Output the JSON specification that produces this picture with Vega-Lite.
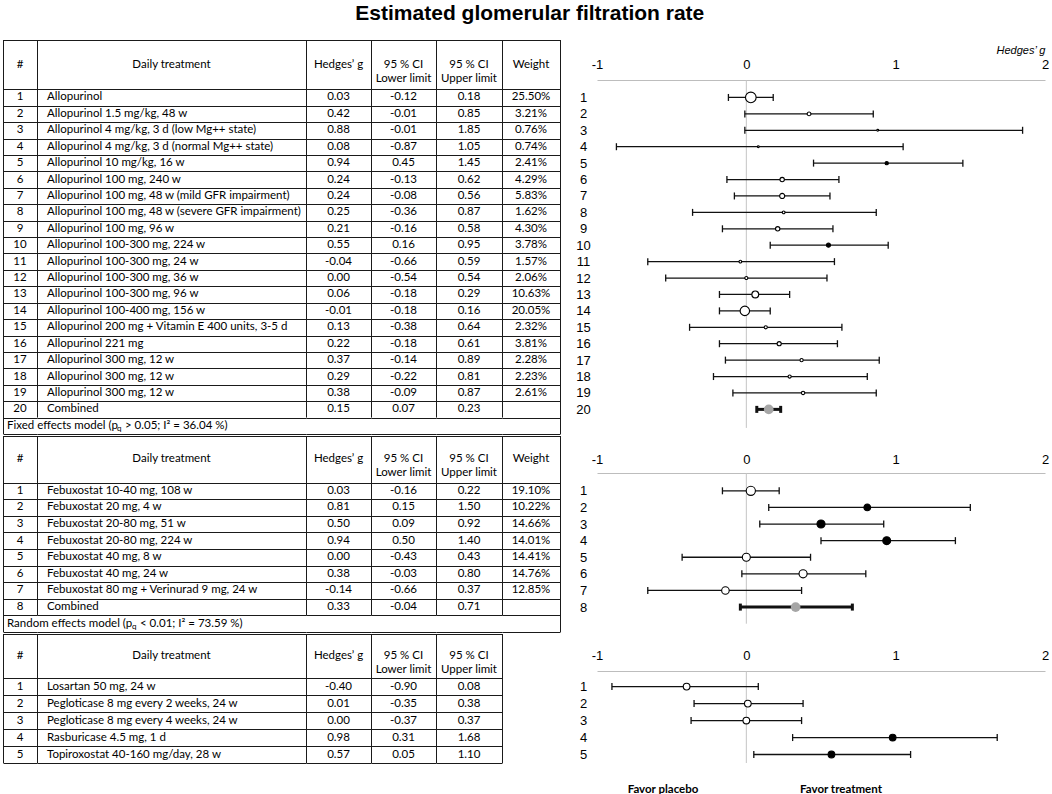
{
  "$schema": "https://vega.github.io/schema/vega-lite/v6.json",
  "padding": {"left": 3, "top": 2, "right": 5, "bottom": 4},
  "title": {"text": "Estimated glomerular filtration rate", "font": "Liberation Sans", "fontSize": 21, "fontWeight": "bold", "color": "#000", "anchor": "middle", "offset": 16, "dx": 4},
  "datasets": {
    "s1": [
      {"n": 1, "t": "Allopurinol", "g": 0.03, "lo": -0.12, "hi": 0.18, "w": 0.255},
      {"n": 2, "t": "Allopurinol 1.5 mg/kg, 48 w", "g": 0.42, "lo": -0.01, "hi": 0.85, "w": 0.0321},
      {"n": 3, "t": "Allopurinol 4 mg/kg, 3 d (low Mg++ state)", "g": 0.88, "lo": -0.01, "hi": 1.85, "w": 0.0076},
      {"n": 4, "t": "Allopurinol 4 mg/kg, 3 d (normal Mg++ state)", "g": 0.08, "lo": -0.87, "hi": 1.05, "w": 0.0074},
      {"n": 5, "t": "Allopurinol 10 mg/kg, 16 w", "g": 0.94, "lo": 0.45, "hi": 1.45, "w": 0.0241},
      {"n": 6, "t": "Allopurinol 100 mg, 240 w", "g": 0.24, "lo": -0.13, "hi": 0.62, "w": 0.0429},
      {"n": 7, "t": "Allopurinol 100 mg, 48 w (mild GFR impairment)", "g": 0.24, "lo": -0.08, "hi": 0.56, "w": 0.0583},
      {"n": 8, "t": "Allopurinol 100 mg, 48 w (severe GFR impairment)", "g": 0.25, "lo": -0.36, "hi": 0.87, "w": 0.0162},
      {"n": 9, "t": "Allopurinol 100 mg, 96 w", "g": 0.21, "lo": -0.16, "hi": 0.58, "w": 0.043},
      {"n": 10, "t": "Allopurinol 100-300 mg, 224 w", "g": 0.55, "lo": 0.16, "hi": 0.95, "w": 0.0378},
      {"n": 11, "t": "Allopurinol 100-300 mg, 24 w", "g": -0.04, "lo": -0.66, "hi": 0.59, "w": 0.0157},
      {"n": 12, "t": "Allopurinol 100-300 mg, 36 w", "g": 0.0, "lo": -0.54, "hi": 0.54, "w": 0.0206},
      {"n": 13, "t": "Allopurinol 100-300 mg, 96 w", "g": 0.06, "lo": -0.18, "hi": 0.29, "w": 0.1063},
      {"n": 14, "t": "Allopurinol 100-400 mg, 156 w", "g": -0.01, "lo": -0.18, "hi": 0.16, "w": 0.2005},
      {"n": 15, "t": "Allopurinol 200 mg + Vitamin E 400 units, 3-5 d", "g": 0.13, "lo": -0.38, "hi": 0.64, "w": 0.0232},
      {"n": 16, "t": "Allopurinol 221 mg", "g": 0.22, "lo": -0.18, "hi": 0.61, "w": 0.0381},
      {"n": 17, "t": "Allopurinol 300 mg, 12 w", "g": 0.37, "lo": -0.14, "hi": 0.89, "w": 0.0228},
      {"n": 18, "t": "Allopurinol 300 mg, 12 w", "g": 0.29, "lo": -0.22, "hi": 0.81, "w": 0.0223},
      {"n": 19, "t": "Allopurinol 300 mg, 12 w", "g": 0.38, "lo": -0.09, "hi": 0.87, "w": 0.0261},
      {"n": 20, "t": "Combined", "g": 0.15, "lo": 0.07, "hi": 0.23}
    ],
    "s2": [
      {"n": 1, "t": "Febuxostat 10-40 mg, 108 w", "g": 0.03, "lo": -0.16, "hi": 0.22, "w": 0.191},
      {"n": 2, "t": "Febuxostat 20 mg, 4 w", "g": 0.81, "lo": 0.15, "hi": 1.5, "w": 0.1022},
      {"n": 3, "t": "Febuxostat 20-80 mg, 51 w", "g": 0.5, "lo": 0.09, "hi": 0.92, "w": 0.1466},
      {"n": 4, "t": "Febuxostat 20-80 mg, 224 w", "g": 0.94, "lo": 0.5, "hi": 1.4, "w": 0.1401},
      {"n": 5, "t": "Febuxostat 40 mg, 8 w", "g": 0.0, "lo": -0.43, "hi": 0.43, "w": 0.1441},
      {"n": 6, "t": "Febuxostat 40 mg, 24 w", "g": 0.38, "lo": -0.03, "hi": 0.8, "w": 0.1476},
      {"n": 7, "t": "Febuxostat 80 mg + Verinurad 9 mg, 24 w", "g": -0.14, "lo": -0.66, "hi": 0.37, "w": 0.1285},
      {"n": 8, "t": "Combined", "g": 0.33, "lo": -0.04, "hi": 0.71}
    ],
    "s3": [
      {"n": 1, "t": "Losartan 50 mg, 24 w", "g": -0.4, "lo": -0.9, "hi": 0.08},
      {"n": 2, "t": "Pegloticase 8 mg every 2 weeks, 24 w", "g": 0.01, "lo": -0.35, "hi": 0.38},
      {"n": 3, "t": "Pegloticase 8 mg every 4 weeks, 24 w", "g": 0.0, "lo": -0.37, "hi": 0.37},
      {"n": 4, "t": "Rasburicase 4.5 mg, 1 d", "g": 0.98, "lo": 0.31, "hi": 1.68},
      {"n": 5, "t": "Topiroxostat 40-160 mg/day, 28 w", "g": 0.57, "lo": 0.05, "hi": 1.1}
    ]
  },
  "spacing": 0,
  "vconcat": [
    {
      "hconcat": [
        {"width": 34, "height": 394, "layer": [
          {"data": {"values": [{}]}, "mark": {"type": "text", "font": "Lato", "fontSize": 11.5, "color": "#000"},
           "encoding": {"x": {"datum": 0.5, "type": "quantitative", "scale": {"domain": [0, 1]}, "axis": null},
                        "y": {"datum": -1, "type": "quantitative", "scale": {"domain": [-2.5, 21.5], "reverse": true, "nice": false, "zero": false}, "axis": {"values": [-2.5, 0.5, 1.5, 2.5, 3.5, 4.5, 5.5, 6.5, 7.5, 8.5, 9.5, 10.5, 11.5, 12.5, 13.5, 14.5, 15.5, 16.5, 17.5, 18.5, 19.5, 20.5, 21.5], "tickCount": 100, "grid": true, "gridColor": "#1a1a1a", "labels": false, "ticks": false, "domain": false, "title": null}},
                        "text": {"value": "#"}}},
          {"data": {"name": "s1"}, "mark": {"type": "text", "font": "Lato", "fontSize": 11.5, "color": "#000"},
           "encoding": {"x": {"datum": 0.5, "type": "quantitative", "scale": {"domain": [0, 1]}, "axis": null},
                        "y": {"field": "n", "type": "quantitative", "scale": {"domain": [-2.5, 21.5], "reverse": true, "nice": false, "zero": false}},
                        "text": {"field": "n", "type": "quantitative", "format": "d"}}},
          {"data": {"values": [{}]}, "mark": {"type": "rule", "color": "#1a1a1a", "xOffset": 0.5},
           "encoding": {"x": {"datum": 0, "type": "quantitative", "scale": {"domain": [0, 1]}, "axis": null},
                        "y": {"datum": -2.5, "type": "quantitative", "scale": {"domain": [-2.5, 21.5], "reverse": true, "nice": false, "zero": false}},
                        "y2": {"datum": 21.5}}},
          {"data": {"values": [{}]}, "mark": {"type": "text", "font": "Lato", "fontSize": 11.5, "color": "#000", "align": "left", "dx": 4},
           "encoding": {"x": {"datum": 0, "type": "quantitative", "scale": {"domain": [0, 1]}, "axis": null},
                        "y": {"datum": 21, "type": "quantitative", "scale": {"domain": [-2.5, 21.5], "reverse": true, "nice": false, "zero": false}},
                        "text": {"value": "Fixed effects model (p"}}},
          {"data": {"values": [{}]}, "mark": {"type": "text", "font": "Lato", "fontSize": 8, "color": "#000", "align": "left", "dx": 114, "dy": 3},
           "encoding": {"x": {"datum": 0, "type": "quantitative", "scale": {"domain": [0, 1]}, "axis": null},
                        "y": {"datum": 21, "type": "quantitative", "scale": {"domain": [-2.5, 21.5], "reverse": true, "nice": false, "zero": false}},
                        "text": {"value": "q"}}},
          {"data": {"values": [{}]}, "mark": {"type": "text", "font": "Lato", "fontSize": 11.5, "color": "#000", "align": "left", "dx": 122},
           "encoding": {"x": {"datum": 0, "type": "quantitative", "scale": {"domain": [0, 1]}, "axis": null},
                        "y": {"datum": 21, "type": "quantitative", "scale": {"domain": [-2.5, 21.5], "reverse": true, "nice": false, "zero": false}},
                        "text": {"value": "> 0.05; I² = 36.04 %)"}}}
        ]},
        {"width": 269, "height": 394, "layer": [
          {"data": {"values": [{}]}, "mark": {"type": "text", "font": "Lato", "fontSize": 11.5, "color": "#000"},
           "encoding": {"x": {"datum": 0.5, "type": "quantitative", "scale": {"domain": [0, 1]}, "axis": null},
                        "y": {"datum": -1, "type": "quantitative", "scale": {"domain": [-2.5, 21.5], "reverse": true, "nice": false, "zero": false}, "axis": {"values": [-2.5, 0.5, 1.5, 2.5, 3.5, 4.5, 5.5, 6.5, 7.5, 8.5, 9.5, 10.5, 11.5, 12.5, 13.5, 14.5, 15.5, 16.5, 17.5, 18.5, 19.5, 20.5, 21.5], "tickCount": 100, "grid": true, "gridColor": "#1a1a1a", "labels": false, "ticks": false, "domain": false, "title": null}},
                        "text": {"value": "Daily treatment"}}},
          {"data": {"name": "s1"}, "mark": {"type": "text", "font": "Lato", "fontSize": 11.5, "color": "#000", "align": "left", "dx": 10},
           "encoding": {"x": {"datum": 0, "type": "quantitative", "scale": {"domain": [0, 1]}, "axis": null},
                        "y": {"field": "n", "type": "quantitative", "scale": {"domain": [-2.5, 21.5], "reverse": true, "nice": false, "zero": false}},
                        "text": {"field": "t"},
                        "fontWeight": {"condition": {"test": "datum.t === 'Combined'", "value": "bold"}, "value": "normal"}}},
          {"data": {"values": [{}]}, "mark": {"type": "rule", "color": "#1a1a1a", "xOffset": 0.5},
           "encoding": {"x": {"datum": 0, "type": "quantitative", "scale": {"domain": [0, 1]}, "axis": null},
                        "y": {"datum": -2.5, "type": "quantitative", "scale": {"domain": [-2.5, 21.5], "reverse": true, "nice": false, "zero": false}},
                        "y2": {"datum": 20.5}}}
        ]},
        {"width": 65, "height": 394, "layer": [
          {"data": {"values": [{}]}, "mark": {"type": "text", "font": "Lato", "fontSize": 11.5, "color": "#000"},
           "encoding": {"x": {"datum": 0.5, "type": "quantitative", "scale": {"domain": [0, 1]}, "axis": null},
                        "y": {"datum": -1, "type": "quantitative", "scale": {"domain": [-2.5, 21.5], "reverse": true, "nice": false, "zero": false}, "axis": {"values": [-2.5, 0.5, 1.5, 2.5, 3.5, 4.5, 5.5, 6.5, 7.5, 8.5, 9.5, 10.5, 11.5, 12.5, 13.5, 14.5, 15.5, 16.5, 17.5, 18.5, 19.5, 20.5, 21.5], "tickCount": 100, "grid": true, "gridColor": "#1a1a1a", "labels": false, "ticks": false, "domain": false, "title": null}},
                        "text": {"value": "Hedges’ g"}}},
          {"data": {"name": "s1"}, "mark": {"type": "text", "font": "Lato", "fontSize": 11.5, "color": "#000"},
           "encoding": {"x": {"datum": 0.5, "type": "quantitative", "scale": {"domain": [0, 1]}, "axis": null},
                        "y": {"field": "n", "type": "quantitative", "scale": {"domain": [-2.5, 21.5], "reverse": true, "nice": false, "zero": false}},
                        "text": {"field": "g", "type": "quantitative", "format": ".2f"},
                        "fontWeight": {"condition": {"test": "datum.t === 'Combined'", "value": "bold"}, "value": "normal"}}},
          {"data": {"values": [{}]}, "mark": {"type": "rule", "color": "#1a1a1a", "xOffset": 0.5},
           "encoding": {"x": {"datum": 0, "type": "quantitative", "scale": {"domain": [0, 1]}, "axis": null},
                        "y": {"datum": -2.5, "type": "quantitative", "scale": {"domain": [-2.5, 21.5], "reverse": true, "nice": false, "zero": false}},
                        "y2": {"datum": 20.5}}}
        ]},
        {"width": 65, "height": 394, "layer": [
          {"data": {"values": [{}]}, "mark": {"type": "text", "font": "Lato", "fontSize": 11.5, "color": "#000", "lineHeight": 14},
           "encoding": {"x": {"datum": 0.5, "type": "quantitative", "scale": {"domain": [0, 1]}, "axis": null},
                        "y": {"datum": -1, "type": "quantitative", "scale": {"domain": [-2.5, 21.5], "reverse": true, "nice": false, "zero": false}, "axis": {"values": [-2.5, 0.5, 1.5, 2.5, 3.5, 4.5, 5.5, 6.5, 7.5, 8.5, 9.5, 10.5, 11.5, 12.5, 13.5, 14.5, 15.5, 16.5, 17.5, 18.5, 19.5, 20.5, 21.5], "tickCount": 100, "grid": true, "gridColor": "#1a1a1a", "labels": false, "ticks": false, "domain": false, "title": null}},
                        "text": {"value": ["95 % CI", "Lower limit"]}}},
          {"data": {"name": "s1"}, "mark": {"type": "text", "font": "Lato", "fontSize": 11.5, "color": "#000"},
           "encoding": {"x": {"datum": 0.5, "type": "quantitative", "scale": {"domain": [0, 1]}, "axis": null},
                        "y": {"field": "n", "type": "quantitative", "scale": {"domain": [-2.5, 21.5], "reverse": true, "nice": false, "zero": false}},
                        "text": {"field": "lo", "type": "quantitative", "format": ".2f"},
                        "fontWeight": {"condition": {"test": "datum.t === 'Combined'", "value": "bold"}, "value": "normal"}}},
          {"data": {"values": [{}]}, "mark": {"type": "rule", "color": "#1a1a1a", "xOffset": 0.5},
           "encoding": {"x": {"datum": 0, "type": "quantitative", "scale": {"domain": [0, 1]}, "axis": null},
                        "y": {"datum": -2.5, "type": "quantitative", "scale": {"domain": [-2.5, 21.5], "reverse": true, "nice": false, "zero": false}},
                        "y2": {"datum": 20.5}}}
        ]},
        {"width": 66, "height": 394, "layer": [
          {"data": {"values": [{}]}, "mark": {"type": "text", "font": "Lato", "fontSize": 11.5, "color": "#000", "lineHeight": 14},
           "encoding": {"x": {"datum": 0.5, "type": "quantitative", "scale": {"domain": [0, 1]}, "axis": null},
                        "y": {"datum": -1, "type": "quantitative", "scale": {"domain": [-2.5, 21.5], "reverse": true, "nice": false, "zero": false}, "axis": {"values": [-2.5, 0.5, 1.5, 2.5, 3.5, 4.5, 5.5, 6.5, 7.5, 8.5, 9.5, 10.5, 11.5, 12.5, 13.5, 14.5, 15.5, 16.5, 17.5, 18.5, 19.5, 20.5, 21.5], "tickCount": 100, "grid": true, "gridColor": "#1a1a1a", "labels": false, "ticks": false, "domain": false, "title": null}},
                        "text": {"value": ["95 % CI", "Upper limit"]}}},
          {"data": {"name": "s1"}, "mark": {"type": "text", "font": "Lato", "fontSize": 11.5, "color": "#000"},
           "encoding": {"x": {"datum": 0.5, "type": "quantitative", "scale": {"domain": [0, 1]}, "axis": null},
                        "y": {"field": "n", "type": "quantitative", "scale": {"domain": [-2.5, 21.5], "reverse": true, "nice": false, "zero": false}},
                        "text": {"field": "hi", "type": "quantitative", "format": ".2f"},
                        "fontWeight": {"condition": {"test": "datum.t === 'Combined'", "value": "bold"}, "value": "normal"}}},
          {"data": {"values": [{}]}, "mark": {"type": "rule", "color": "#1a1a1a", "xOffset": 0.5},
           "encoding": {"x": {"datum": 0, "type": "quantitative", "scale": {"domain": [0, 1]}, "axis": null},
                        "y": {"datum": -2.5, "type": "quantitative", "scale": {"domain": [-2.5, 21.5], "reverse": true, "nice": false, "zero": false}},
                        "y2": {"datum": 20.5}}}
        ]},
        {"width": 58, "height": 394, "layer": [
          {"data": {"values": [{}]}, "mark": {"type": "text", "font": "Lato", "fontSize": 11.5, "color": "#000"},
           "encoding": {"x": {"datum": 0.5, "type": "quantitative", "scale": {"domain": [0, 1]}, "axis": null},
                        "y": {"datum": -1, "type": "quantitative", "scale": {"domain": [-2.5, 21.5], "reverse": true, "nice": false, "zero": false}, "axis": {"values": [-2.5, 0.5, 1.5, 2.5, 3.5, 4.5, 5.5, 6.5, 7.5, 8.5, 9.5, 10.5, 11.5, 12.5, 13.5, 14.5, 15.5, 16.5, 17.5, 18.5, 19.5, 20.5, 21.5], "tickCount": 100, "grid": true, "gridColor": "#1a1a1a", "labels": false, "ticks": false, "domain": false, "title": null}},
                        "text": {"value": "Weight"}}},
          {"data": {"name": "s1"}, "transform": [{"filter": "isValid(datum.w)"}], "mark": {"type": "text", "font": "Lato", "fontSize": 11.5, "color": "#000"},
           "encoding": {"x": {"datum": 0.5, "type": "quantitative", "scale": {"domain": [0, 1]}, "axis": null},
                        "y": {"field": "n", "type": "quantitative", "scale": {"domain": [-2.5, 21.5], "reverse": true, "nice": false, "zero": false}},
                        "text": {"field": "w", "type": "quantitative", "format": ".2%"}}},
          {"data": {"values": [{}]}, "mark": {"type": "rule", "color": "#1a1a1a", "xOffset": 0.5},
           "encoding": {"x": {"datum": 0, "type": "quantitative", "scale": {"domain": [0, 1]}, "axis": null},
                        "y": {"datum": -2.5, "type": "quantitative", "scale": {"domain": [-2.5, 21.5], "reverse": true, "nice": false, "zero": false}},
                        "y2": {"datum": 20.5}}},
          {"data": {"values": [{}]}, "mark": {"type": "rule", "color": "#1a1a1a", "xOffset": 0.5},
           "encoding": {"x": {"datum": 1, "type": "quantitative", "scale": {"domain": [0, 1]}, "axis": null},
                        "y": {"datum": -2.5, "type": "quantitative", "scale": {"domain": [-2.5, 21.5], "reverse": true, "nice": false, "zero": false}},
                        "y2": {"datum": 21.5}}}
        ]},
        {"width": 37, "height": 394, "data": {"values": []}, "mark": "point"},
        {"width": 448, "height": 394, "layer": [
          {"data": {"values": [{}]}, "mark": {"type": "rule", "color": "#c4c4c4", "strokeWidth": 1},
           "encoding": {"x": {"datum": 0, "type": "quantitative", "scale": {"domain": [-1, 2], "nice": false, "zero": false}, "axis": {"orient": "top", "values": [-1, 0, 1, 2], "tickCount": 100, "format": "d", "offset": -40, "domain": true, "domainColor": "#bdbdbd", "ticks": false, "grid": false, "labelFlush": false, "labelOverlap": false, "labelPadding": 9, "labelFont": "Liberation Sans", "labelFontSize": 13, "labelColor": "#000", "title": "Hedges’ g", "titleAnchor": "end", "titleFont": "Liberation Sans", "titleFontSize": 11, "titleFontStyle": "italic", "titleFontWeight": "normal", "titleColor": "#000", "titlePadding": 3}},
                        "y": {"datum": -0.06, "type": "quantitative", "scale": {"domain": [-2.5, 21.5], "reverse": true, "nice": false, "zero": false}, "axis": {"values": [1, 2, 3, 4, 5, 6, 7, 8, 9, 10, 11, 12, 13, 14, 15, 16, 17, 18, 19, 20], "tickCount": 100, "format": "d", "labelOverlap": false, "labelAlign": "center", "labelPadding": 14, "ticks": false, "tickSize": 0, "domain": false, "grid": false, "labelFont": "Liberation Sans", "labelFontSize": 13, "labelColor": "#000", "title": null}},
                        "y2": {"datum": 21.13}}},
          {"data": {"name": "s1"}, "mark": {"type": "rule", "color": "#111"},
           "encoding": {"x": {"field": "lo", "type": "quantitative", "scale": {"domain": [-1, 2], "nice": false, "zero": false}},
                        "x2": {"field": "hi"},
                        "y": {"field": "n", "type": "quantitative", "scale": {"domain": [-2.5, 21.5], "reverse": true, "nice": false, "zero": false}},
                        "strokeWidth": {"condition": {"test": "datum.t === 'Combined'", "value": 3}, "value": 1.3}}},
          {"data": {"name": "s1"}, "mark": {"type": "point", "shape": "M0,-1L0,1", "size": 49, "filled": false, "opacity": 1, "color": "#111"},
           "encoding": {"x": {"field": "lo", "type": "quantitative", "scale": {"domain": [-1, 2], "nice": false, "zero": false}},
                        "y": {"field": "n", "type": "quantitative", "scale": {"domain": [-2.5, 21.5], "reverse": true, "nice": false, "zero": false}},
                        "strokeWidth": {"condition": {"test": "datum.t === 'Combined'", "value": 3}, "value": 1.3}}},
          {"data": {"name": "s1"}, "mark": {"type": "point", "shape": "M0,-1L0,1", "size": 49, "filled": false, "opacity": 1, "color": "#111"},
           "encoding": {"x": {"field": "hi", "type": "quantitative", "scale": {"domain": [-1, 2], "nice": false, "zero": false}},
                        "y": {"field": "n", "type": "quantitative", "scale": {"domain": [-2.5, 21.5], "reverse": true, "nice": false, "zero": false}},
                        "strokeWidth": {"condition": {"test": "datum.t === 'Combined'", "value": 3}, "value": 1.3}}},
          {"data": {"name": "s1"}, "transform": [{"filter": "datum.t !== 'Combined'"}], "mark": {"type": "point", "shape": "circle", "filled": true, "opacity": 1, "stroke": "#000", "strokeWidth": 1.1},
           "encoding": {"x": {"field": "g", "type": "quantitative", "scale": {"domain": [-1, 2], "nice": false, "zero": false}},
                        "y": {"field": "n", "type": "quantitative", "scale": {"domain": [-2.5, 21.5], "reverse": true, "nice": false, "zero": false}},
                        "size": {"field": "w", "type": "quantitative", "scale": {"domain": [0, 0.255], "range": [0, 113]}, "legend": null},
                        "fill": {"condition": {"test": "datum.lo > 0", "value": "#000"}, "value": "#fff"}}},
          {"data": {"name": "s1"}, "transform": [{"filter": "datum.t === 'Combined'"}], "mark": {"type": "point", "shape": "circle", "filled": true, "opacity": 1, "color": "#a6a6a6", "size": 95},
           "encoding": {"x": {"field": "g", "type": "quantitative", "scale": {"domain": [-1, 2], "nice": false, "zero": false}},
                        "y": {"field": "n", "type": "quantitative", "scale": {"domain": [-2.5, 21.5], "reverse": true, "nice": false, "zero": false}}}}
        ]}
      ],
      "spacing": 0,
      "bounds": "flush"
    },
    {
      "hconcat": [
        {"width": 34, "height": 196, "layer": [
          {"data": {"values": [{}]}, "mark": {"type": "text", "font": "Lato", "fontSize": 11.5, "color": "#000"},
           "encoding": {"x": {"datum": 0.5, "type": "quantitative", "scale": {"domain": [0, 1]}, "axis": null},
                        "y": {"datum": -0.9, "type": "quantitative", "scale": {"domain": [-2.3, 9.5], "reverse": true, "nice": false, "zero": false}, "axis": {"values": [-2.3, 0.5, 1.5, 2.5, 3.5, 4.5, 5.5, 6.5, 7.5, 8.5, 9.5], "tickCount": 100, "grid": true, "gridColor": "#1a1a1a", "labels": false, "ticks": false, "domain": false, "title": null}},
                        "text": {"value": "#"}}},
          {"data": {"name": "s2"}, "mark": {"type": "text", "font": "Lato", "fontSize": 11.5, "color": "#000"},
           "encoding": {"x": {"datum": 0.5, "type": "quantitative", "scale": {"domain": [0, 1]}, "axis": null},
                        "y": {"field": "n", "type": "quantitative", "scale": {"domain": [-2.3, 9.5], "reverse": true, "nice": false, "zero": false}},
                        "text": {"field": "n", "type": "quantitative", "format": "d"}}},
          {"data": {"values": [{}]}, "mark": {"type": "rule", "color": "#1a1a1a", "xOffset": 0.5},
           "encoding": {"x": {"datum": 0, "type": "quantitative", "scale": {"domain": [0, 1]}, "axis": null},
                        "y": {"datum": -2.3, "type": "quantitative", "scale": {"domain": [-2.3, 9.5], "reverse": true, "nice": false, "zero": false}},
                        "y2": {"datum": 9.5}}},
          {"data": {"values": [{}]}, "mark": {"type": "text", "font": "Lato", "fontSize": 11.5, "color": "#000", "align": "left", "dx": 4},
           "encoding": {"x": {"datum": 0, "type": "quantitative", "scale": {"domain": [0, 1]}, "axis": null},
                        "y": {"datum": 9, "type": "quantitative", "scale": {"domain": [-2.3, 9.5], "reverse": true, "nice": false, "zero": false}},
                        "text": {"value": "Random effects model (p"}}},
          {"data": {"values": [{}]}, "mark": {"type": "text", "font": "Lato", "fontSize": 8, "color": "#000", "align": "left", "dx": 129, "dy": 3},
           "encoding": {"x": {"datum": 0, "type": "quantitative", "scale": {"domain": [0, 1]}, "axis": null},
                        "y": {"datum": 9, "type": "quantitative", "scale": {"domain": [-2.3, 9.5], "reverse": true, "nice": false, "zero": false}},
                        "text": {"value": "q"}}},
          {"data": {"values": [{}]}, "mark": {"type": "text", "font": "Lato", "fontSize": 11.5, "color": "#000", "align": "left", "dx": 137},
           "encoding": {"x": {"datum": 0, "type": "quantitative", "scale": {"domain": [0, 1]}, "axis": null},
                        "y": {"datum": 9, "type": "quantitative", "scale": {"domain": [-2.3, 9.5], "reverse": true, "nice": false, "zero": false}},
                        "text": {"value": "< 0.01; I² = 73.59 %)"}}}
        ]},
        {"width": 269, "height": 196, "layer": [
          {"data": {"values": [{}]}, "mark": {"type": "text", "font": "Lato", "fontSize": 11.5, "color": "#000"},
           "encoding": {"x": {"datum": 0.5, "type": "quantitative", "scale": {"domain": [0, 1]}, "axis": null},
                        "y": {"datum": -0.9, "type": "quantitative", "scale": {"domain": [-2.3, 9.5], "reverse": true, "nice": false, "zero": false}, "axis": {"values": [-2.3, 0.5, 1.5, 2.5, 3.5, 4.5, 5.5, 6.5, 7.5, 8.5, 9.5], "tickCount": 100, "grid": true, "gridColor": "#1a1a1a", "labels": false, "ticks": false, "domain": false, "title": null}},
                        "text": {"value": "Daily treatment"}}},
          {"data": {"name": "s2"}, "mark": {"type": "text", "font": "Lato", "fontSize": 11.5, "color": "#000", "align": "left", "dx": 10},
           "encoding": {"x": {"datum": 0, "type": "quantitative", "scale": {"domain": [0, 1]}, "axis": null},
                        "y": {"field": "n", "type": "quantitative", "scale": {"domain": [-2.3, 9.5], "reverse": true, "nice": false, "zero": false}},
                        "text": {"field": "t"},
                        "fontWeight": {"condition": {"test": "datum.t === 'Combined'", "value": "bold"}, "value": "normal"}}},
          {"data": {"values": [{}]}, "mark": {"type": "rule", "color": "#1a1a1a", "xOffset": 0.5},
           "encoding": {"x": {"datum": 0, "type": "quantitative", "scale": {"domain": [0, 1]}, "axis": null},
                        "y": {"datum": -2.3, "type": "quantitative", "scale": {"domain": [-2.3, 9.5], "reverse": true, "nice": false, "zero": false}},
                        "y2": {"datum": 8.5}}}
        ]},
        {"width": 65, "height": 196, "layer": [
          {"data": {"values": [{}]}, "mark": {"type": "text", "font": "Lato", "fontSize": 11.5, "color": "#000"},
           "encoding": {"x": {"datum": 0.5, "type": "quantitative", "scale": {"domain": [0, 1]}, "axis": null},
                        "y": {"datum": -0.9, "type": "quantitative", "scale": {"domain": [-2.3, 9.5], "reverse": true, "nice": false, "zero": false}, "axis": {"values": [-2.3, 0.5, 1.5, 2.5, 3.5, 4.5, 5.5, 6.5, 7.5, 8.5, 9.5], "tickCount": 100, "grid": true, "gridColor": "#1a1a1a", "labels": false, "ticks": false, "domain": false, "title": null}},
                        "text": {"value": "Hedges’ g"}}},
          {"data": {"name": "s2"}, "mark": {"type": "text", "font": "Lato", "fontSize": 11.5, "color": "#000"},
           "encoding": {"x": {"datum": 0.5, "type": "quantitative", "scale": {"domain": [0, 1]}, "axis": null},
                        "y": {"field": "n", "type": "quantitative", "scale": {"domain": [-2.3, 9.5], "reverse": true, "nice": false, "zero": false}},
                        "text": {"field": "g", "type": "quantitative", "format": ".2f"},
                        "fontWeight": {"condition": {"test": "datum.t === 'Combined'", "value": "bold"}, "value": "normal"}}},
          {"data": {"values": [{}]}, "mark": {"type": "rule", "color": "#1a1a1a", "xOffset": 0.5},
           "encoding": {"x": {"datum": 0, "type": "quantitative", "scale": {"domain": [0, 1]}, "axis": null},
                        "y": {"datum": -2.3, "type": "quantitative", "scale": {"domain": [-2.3, 9.5], "reverse": true, "nice": false, "zero": false}},
                        "y2": {"datum": 8.5}}}
        ]},
        {"width": 65, "height": 196, "layer": [
          {"data": {"values": [{}]}, "mark": {"type": "text", "font": "Lato", "fontSize": 11.5, "color": "#000", "lineHeight": 14},
           "encoding": {"x": {"datum": 0.5, "type": "quantitative", "scale": {"domain": [0, 1]}, "axis": null},
                        "y": {"datum": -0.9, "type": "quantitative", "scale": {"domain": [-2.3, 9.5], "reverse": true, "nice": false, "zero": false}, "axis": {"values": [-2.3, 0.5, 1.5, 2.5, 3.5, 4.5, 5.5, 6.5, 7.5, 8.5, 9.5], "tickCount": 100, "grid": true, "gridColor": "#1a1a1a", "labels": false, "ticks": false, "domain": false, "title": null}},
                        "text": {"value": ["95 % CI", "Lower limit"]}}},
          {"data": {"name": "s2"}, "mark": {"type": "text", "font": "Lato", "fontSize": 11.5, "color": "#000"},
           "encoding": {"x": {"datum": 0.5, "type": "quantitative", "scale": {"domain": [0, 1]}, "axis": null},
                        "y": {"field": "n", "type": "quantitative", "scale": {"domain": [-2.3, 9.5], "reverse": true, "nice": false, "zero": false}},
                        "text": {"field": "lo", "type": "quantitative", "format": ".2f"},
                        "fontWeight": {"condition": {"test": "datum.t === 'Combined'", "value": "bold"}, "value": "normal"}}},
          {"data": {"values": [{}]}, "mark": {"type": "rule", "color": "#1a1a1a", "xOffset": 0.5},
           "encoding": {"x": {"datum": 0, "type": "quantitative", "scale": {"domain": [0, 1]}, "axis": null},
                        "y": {"datum": -2.3, "type": "quantitative", "scale": {"domain": [-2.3, 9.5], "reverse": true, "nice": false, "zero": false}},
                        "y2": {"datum": 8.5}}}
        ]},
        {"width": 66, "height": 196, "layer": [
          {"data": {"values": [{}]}, "mark": {"type": "text", "font": "Lato", "fontSize": 11.5, "color": "#000", "lineHeight": 14},
           "encoding": {"x": {"datum": 0.5, "type": "quantitative", "scale": {"domain": [0, 1]}, "axis": null},
                        "y": {"datum": -0.9, "type": "quantitative", "scale": {"domain": [-2.3, 9.5], "reverse": true, "nice": false, "zero": false}, "axis": {"values": [-2.3, 0.5, 1.5, 2.5, 3.5, 4.5, 5.5, 6.5, 7.5, 8.5, 9.5], "tickCount": 100, "grid": true, "gridColor": "#1a1a1a", "labels": false, "ticks": false, "domain": false, "title": null}},
                        "text": {"value": ["95 % CI", "Upper limit"]}}},
          {"data": {"name": "s2"}, "mark": {"type": "text", "font": "Lato", "fontSize": 11.5, "color": "#000"},
           "encoding": {"x": {"datum": 0.5, "type": "quantitative", "scale": {"domain": [0, 1]}, "axis": null},
                        "y": {"field": "n", "type": "quantitative", "scale": {"domain": [-2.3, 9.5], "reverse": true, "nice": false, "zero": false}},
                        "text": {"field": "hi", "type": "quantitative", "format": ".2f"},
                        "fontWeight": {"condition": {"test": "datum.t === 'Combined'", "value": "bold"}, "value": "normal"}}},
          {"data": {"values": [{}]}, "mark": {"type": "rule", "color": "#1a1a1a", "xOffset": 0.5},
           "encoding": {"x": {"datum": 0, "type": "quantitative", "scale": {"domain": [0, 1]}, "axis": null},
                        "y": {"datum": -2.3, "type": "quantitative", "scale": {"domain": [-2.3, 9.5], "reverse": true, "nice": false, "zero": false}},
                        "y2": {"datum": 8.5}}}
        ]},
        {"width": 58, "height": 196, "layer": [
          {"data": {"values": [{}]}, "mark": {"type": "text", "font": "Lato", "fontSize": 11.5, "color": "#000"},
           "encoding": {"x": {"datum": 0.5, "type": "quantitative", "scale": {"domain": [0, 1]}, "axis": null},
                        "y": {"datum": -0.9, "type": "quantitative", "scale": {"domain": [-2.3, 9.5], "reverse": true, "nice": false, "zero": false}, "axis": {"values": [-2.3, 0.5, 1.5, 2.5, 3.5, 4.5, 5.5, 6.5, 7.5, 8.5, 9.5], "tickCount": 100, "grid": true, "gridColor": "#1a1a1a", "labels": false, "ticks": false, "domain": false, "title": null}},
                        "text": {"value": "Weight"}}},
          {"data": {"name": "s2"}, "transform": [{"filter": "isValid(datum.w)"}], "mark": {"type": "text", "font": "Lato", "fontSize": 11.5, "color": "#000"},
           "encoding": {"x": {"datum": 0.5, "type": "quantitative", "scale": {"domain": [0, 1]}, "axis": null},
                        "y": {"field": "n", "type": "quantitative", "scale": {"domain": [-2.3, 9.5], "reverse": true, "nice": false, "zero": false}},
                        "text": {"field": "w", "type": "quantitative", "format": ".2%"}}},
          {"data": {"values": [{}]}, "mark": {"type": "rule", "color": "#1a1a1a", "xOffset": 0.5},
           "encoding": {"x": {"datum": 0, "type": "quantitative", "scale": {"domain": [0, 1]}, "axis": null},
                        "y": {"datum": -2.3, "type": "quantitative", "scale": {"domain": [-2.3, 9.5], "reverse": true, "nice": false, "zero": false}},
                        "y2": {"datum": 8.5}}},
          {"data": {"values": [{}]}, "mark": {"type": "rule", "color": "#1a1a1a", "xOffset": 0.5},
           "encoding": {"x": {"datum": 1, "type": "quantitative", "scale": {"domain": [0, 1]}, "axis": null},
                        "y": {"datum": -2.3, "type": "quantitative", "scale": {"domain": [-2.3, 9.5], "reverse": true, "nice": false, "zero": false}},
                        "y2": {"datum": 9.5}}}
        ]},
        {"width": 37, "height": 196, "data": {"values": []}, "mark": "point"},
        {"width": 448, "height": 196, "layer": [
          {"data": {"values": [{}]}, "mark": {"type": "rule", "color": "#c4c4c4", "strokeWidth": 1},
           "encoding": {"x": {"datum": 0, "type": "quantitative", "scale": {"domain": [-1, 2], "nice": false, "zero": false}, "axis": {"orient": "top", "values": [-1, 0, 1, 2], "tickCount": 100, "format": "d", "offset": -37, "domain": true, "domainColor": "#bdbdbd", "ticks": false, "grid": false, "labelFlush": false, "labelOverlap": false, "labelPadding": 7, "labelFont": "Liberation Sans", "labelFontSize": 13, "labelColor": "#000", "title": null}},
                        "y": {"datum": -0.07, "type": "quantitative", "scale": {"domain": [-2.3, 9.5], "reverse": true, "nice": false, "zero": false}, "axis": {"values": [1, 2, 3, 4, 5, 6, 7, 8], "tickCount": 100, "format": "d", "labelOverlap": false, "labelAlign": "center", "labelPadding": 14, "ticks": false, "tickSize": 0, "domain": false, "grid": false, "labelFont": "Liberation Sans", "labelFontSize": 13, "labelColor": "#000", "title": null}},
                        "y2": {"datum": 9.0}}},
          {"data": {"name": "s2"}, "mark": {"type": "rule", "color": "#111"},
           "encoding": {"x": {"field": "lo", "type": "quantitative", "scale": {"domain": [-1, 2], "nice": false, "zero": false}},
                        "x2": {"field": "hi"},
                        "y": {"field": "n", "type": "quantitative", "scale": {"domain": [-2.3, 9.5], "reverse": true, "nice": false, "zero": false}},
                        "strokeWidth": {"condition": {"test": "datum.t === 'Combined'", "value": 3}, "value": 1.3}}},
          {"data": {"name": "s2"}, "mark": {"type": "point", "shape": "M0,-1L0,1", "size": 49, "filled": false, "opacity": 1, "color": "#111"},
           "encoding": {"x": {"field": "lo", "type": "quantitative", "scale": {"domain": [-1, 2], "nice": false, "zero": false}},
                        "y": {"field": "n", "type": "quantitative", "scale": {"domain": [-2.3, 9.5], "reverse": true, "nice": false, "zero": false}},
                        "strokeWidth": {"condition": {"test": "datum.t === 'Combined'", "value": 3}, "value": 1.3}}},
          {"data": {"name": "s2"}, "mark": {"type": "point", "shape": "M0,-1L0,1", "size": 49, "filled": false, "opacity": 1, "color": "#111"},
           "encoding": {"x": {"field": "hi", "type": "quantitative", "scale": {"domain": [-1, 2], "nice": false, "zero": false}},
                        "y": {"field": "n", "type": "quantitative", "scale": {"domain": [-2.3, 9.5], "reverse": true, "nice": false, "zero": false}},
                        "strokeWidth": {"condition": {"test": "datum.t === 'Combined'", "value": 3}, "value": 1.3}}},
          {"data": {"name": "s2"}, "transform": [{"filter": "datum.t !== 'Combined'"}], "mark": {"type": "point", "shape": "circle", "filled": true, "opacity": 1, "stroke": "#000", "strokeWidth": 1.1},
           "encoding": {"x": {"field": "g", "type": "quantitative", "scale": {"domain": [-1, 2], "nice": false, "zero": false}},
                        "y": {"field": "n", "type": "quantitative", "scale": {"domain": [-2.3, 9.5], "reverse": true, "nice": false, "zero": false}},
                        "size": {"field": "w", "type": "quantitative", "scale": {"domain": [0, 0.191], "range": [0, 95]}, "legend": null},
                        "fill": {"condition": {"test": "datum.lo > 0", "value": "#000"}, "value": "#fff"}}},
          {"data": {"name": "s2"}, "transform": [{"filter": "datum.t === 'Combined'"}], "mark": {"type": "point", "shape": "circle", "filled": true, "opacity": 1, "color": "#a6a6a6", "size": 95},
           "encoding": {"x": {"field": "g", "type": "quantitative", "scale": {"domain": [-1, 2], "nice": false, "zero": false}},
                        "y": {"field": "n", "type": "quantitative", "scale": {"domain": [-2.3, 9.5], "reverse": true, "nice": false, "zero": false}}}}
        ]}
      ],
      "spacing": 0,
      "bounds": "flush"
    },
    {
      "hconcat": [
        {"width": 34, "height": 129, "layer": [
          {"data": {"values": [{}]}, "mark": {"type": "text", "font": "Lato", "fontSize": 11.5, "color": "#000"},
           "encoding": {"x": {"datum": 0.5, "type": "quantitative", "scale": {"domain": [0, 1]}, "axis": null},
                        "y": {"datum": -0.8, "type": "quantitative", "scale": {"domain": [-2.1, 5.5], "reverse": true, "nice": false, "zero": false}, "axis": {"values": [-2.1, 0.5, 1.5, 2.5, 3.5, 4.5, 5.5], "tickCount": 100, "grid": true, "gridColor": "#1a1a1a", "labels": false, "ticks": false, "domain": false, "title": null}},
                        "text": {"value": "#"}}},
          {"data": {"name": "s3"}, "mark": {"type": "text", "font": "Lato", "fontSize": 11.5, "color": "#000"},
           "encoding": {"x": {"datum": 0.5, "type": "quantitative", "scale": {"domain": [0, 1]}, "axis": null},
                        "y": {"field": "n", "type": "quantitative", "scale": {"domain": [-2.1, 5.5], "reverse": true, "nice": false, "zero": false}},
                        "text": {"field": "n", "type": "quantitative", "format": "d"}}},
          {"data": {"values": [{}]}, "mark": {"type": "rule", "color": "#1a1a1a", "xOffset": 0.5},
           "encoding": {"x": {"datum": 0, "type": "quantitative", "scale": {"domain": [0, 1]}, "axis": null},
                        "y": {"datum": -2.1, "type": "quantitative", "scale": {"domain": [-2.1, 5.5], "reverse": true, "nice": false, "zero": false}},
                        "y2": {"datum": 5.5}}}
        ]},
        {"width": 269, "height": 129, "layer": [
          {"data": {"values": [{}]}, "mark": {"type": "text", "font": "Lato", "fontSize": 11.5, "color": "#000"},
           "encoding": {"x": {"datum": 0.5, "type": "quantitative", "scale": {"domain": [0, 1]}, "axis": null},
                        "y": {"datum": -0.8, "type": "quantitative", "scale": {"domain": [-2.1, 5.5], "reverse": true, "nice": false, "zero": false}, "axis": {"values": [-2.1, 0.5, 1.5, 2.5, 3.5, 4.5, 5.5], "tickCount": 100, "grid": true, "gridColor": "#1a1a1a", "labels": false, "ticks": false, "domain": false, "title": null}},
                        "text": {"value": "Daily treatment"}}},
          {"data": {"name": "s3"}, "mark": {"type": "text", "font": "Lato", "fontSize": 11.5, "color": "#000", "align": "left", "dx": 10},
           "encoding": {"x": {"datum": 0, "type": "quantitative", "scale": {"domain": [0, 1]}, "axis": null},
                        "y": {"field": "n", "type": "quantitative", "scale": {"domain": [-2.1, 5.5], "reverse": true, "nice": false, "zero": false}},
                        "text": {"field": "t"}}},
          {"data": {"values": [{}]}, "mark": {"type": "rule", "color": "#1a1a1a", "xOffset": 0.5},
           "encoding": {"x": {"datum": 0, "type": "quantitative", "scale": {"domain": [0, 1]}, "axis": null},
                        "y": {"datum": -2.1, "type": "quantitative", "scale": {"domain": [-2.1, 5.5], "reverse": true, "nice": false, "zero": false}},
                        "y2": {"datum": 5.5}}}
        ]},
        {"width": 65, "height": 129, "layer": [
          {"data": {"values": [{}]}, "mark": {"type": "text", "font": "Lato", "fontSize": 11.5, "color": "#000"},
           "encoding": {"x": {"datum": 0.5, "type": "quantitative", "scale": {"domain": [0, 1]}, "axis": null},
                        "y": {"datum": -0.8, "type": "quantitative", "scale": {"domain": [-2.1, 5.5], "reverse": true, "nice": false, "zero": false}, "axis": {"values": [-2.1, 0.5, 1.5, 2.5, 3.5, 4.5, 5.5], "tickCount": 100, "grid": true, "gridColor": "#1a1a1a", "labels": false, "ticks": false, "domain": false, "title": null}},
                        "text": {"value": "Hedges’ g"}}},
          {"data": {"name": "s3"}, "mark": {"type": "text", "font": "Lato", "fontSize": 11.5, "color": "#000"},
           "encoding": {"x": {"datum": 0.5, "type": "quantitative", "scale": {"domain": [0, 1]}, "axis": null},
                        "y": {"field": "n", "type": "quantitative", "scale": {"domain": [-2.1, 5.5], "reverse": true, "nice": false, "zero": false}},
                        "text": {"field": "g", "type": "quantitative", "format": ".2f"}}},
          {"data": {"values": [{}]}, "mark": {"type": "rule", "color": "#1a1a1a", "xOffset": 0.5},
           "encoding": {"x": {"datum": 0, "type": "quantitative", "scale": {"domain": [0, 1]}, "axis": null},
                        "y": {"datum": -2.1, "type": "quantitative", "scale": {"domain": [-2.1, 5.5], "reverse": true, "nice": false, "zero": false}},
                        "y2": {"datum": 5.5}}}
        ]},
        {"width": 65, "height": 129, "layer": [
          {"data": {"values": [{}]}, "mark": {"type": "text", "font": "Lato", "fontSize": 11.5, "color": "#000", "lineHeight": 14},
           "encoding": {"x": {"datum": 0.5, "type": "quantitative", "scale": {"domain": [0, 1]}, "axis": null},
                        "y": {"datum": -0.8, "type": "quantitative", "scale": {"domain": [-2.1, 5.5], "reverse": true, "nice": false, "zero": false}, "axis": {"values": [-2.1, 0.5, 1.5, 2.5, 3.5, 4.5, 5.5], "tickCount": 100, "grid": true, "gridColor": "#1a1a1a", "labels": false, "ticks": false, "domain": false, "title": null}},
                        "text": {"value": ["95 % CI", "Lower limit"]}}},
          {"data": {"name": "s3"}, "mark": {"type": "text", "font": "Lato", "fontSize": 11.5, "color": "#000"},
           "encoding": {"x": {"datum": 0.5, "type": "quantitative", "scale": {"domain": [0, 1]}, "axis": null},
                        "y": {"field": "n", "type": "quantitative", "scale": {"domain": [-2.1, 5.5], "reverse": true, "nice": false, "zero": false}},
                        "text": {"field": "lo", "type": "quantitative", "format": ".2f"}}},
          {"data": {"values": [{}]}, "mark": {"type": "rule", "color": "#1a1a1a", "xOffset": 0.5},
           "encoding": {"x": {"datum": 0, "type": "quantitative", "scale": {"domain": [0, 1]}, "axis": null},
                        "y": {"datum": -2.1, "type": "quantitative", "scale": {"domain": [-2.1, 5.5], "reverse": true, "nice": false, "zero": false}},
                        "y2": {"datum": 5.5}}}
        ]},
        {"width": 66, "height": 129, "layer": [
          {"data": {"values": [{}]}, "mark": {"type": "text", "font": "Lato", "fontSize": 11.5, "color": "#000", "lineHeight": 14},
           "encoding": {"x": {"datum": 0.5, "type": "quantitative", "scale": {"domain": [0, 1]}, "axis": null},
                        "y": {"datum": -0.8, "type": "quantitative", "scale": {"domain": [-2.1, 5.5], "reverse": true, "nice": false, "zero": false}, "axis": {"values": [-2.1, 0.5, 1.5, 2.5, 3.5, 4.5, 5.5], "tickCount": 100, "grid": true, "gridColor": "#1a1a1a", "labels": false, "ticks": false, "domain": false, "title": null}},
                        "text": {"value": ["95 % CI", "Upper limit"]}}},
          {"data": {"name": "s3"}, "mark": {"type": "text", "font": "Lato", "fontSize": 11.5, "color": "#000"},
           "encoding": {"x": {"datum": 0.5, "type": "quantitative", "scale": {"domain": [0, 1]}, "axis": null},
                        "y": {"field": "n", "type": "quantitative", "scale": {"domain": [-2.1, 5.5], "reverse": true, "nice": false, "zero": false}},
                        "text": {"field": "hi", "type": "quantitative", "format": ".2f"}}},
          {"data": {"values": [{}]}, "mark": {"type": "rule", "color": "#1a1a1a", "xOffset": 0.5},
           "encoding": {"x": {"datum": 0, "type": "quantitative", "scale": {"domain": [0, 1]}, "axis": null},
                        "y": {"datum": -2.1, "type": "quantitative", "scale": {"domain": [-2.1, 5.5], "reverse": true, "nice": false, "zero": false}},
                        "y2": {"datum": 5.5}}},
          {"data": {"values": [{}]}, "mark": {"type": "rule", "color": "#1a1a1a", "xOffset": 0.5},
           "encoding": {"x": {"datum": 1, "type": "quantitative", "scale": {"domain": [0, 1]}, "axis": null},
                        "y": {"datum": -2.1, "type": "quantitative", "scale": {"domain": [-2.1, 5.5], "reverse": true, "nice": false, "zero": false}},
                        "y2": {"datum": 5.5}}}
        ]},
        {"width": 95, "height": 129, "data": {"values": []}, "mark": "point"},
        {"width": 448, "height": 129, "layer": [
          {"data": {"values": [{}]}, "mark": {"type": "rule", "color": "#c4c4c4", "strokeWidth": 1},
           "encoding": {"x": {"datum": 0, "type": "quantitative", "scale": {"domain": [-1, 2], "nice": false, "zero": false}, "axis": {"orient": "top", "values": [-1, 0, 1, 2], "tickCount": 100, "format": "d", "offset": -37, "domain": true, "domainColor": "#bdbdbd", "ticks": false, "grid": false, "labelFlush": false, "labelOverlap": false, "labelPadding": 9, "labelFont": "Liberation Sans", "labelFontSize": 13, "labelColor": "#000", "title": null}},
                        "y": {"datum": 0.1, "type": "quantitative", "scale": {"domain": [-2.1, 5.5], "reverse": true, "nice": false, "zero": false}, "axis": {"values": [1, 2, 3, 4, 5], "tickCount": 100, "format": "d", "labelOverlap": false, "labelAlign": "center", "labelPadding": 14, "ticks": false, "tickSize": 0, "domain": false, "grid": false, "labelFont": "Liberation Sans", "labelFontSize": 13, "labelColor": "#000", "title": null}},
                        "y2": {"datum": 5.5}}},
          {"data": {"name": "s3"}, "mark": {"type": "rule", "color": "#111", "strokeWidth": 1.3},
           "encoding": {"x": {"field": "lo", "type": "quantitative", "scale": {"domain": [-1, 2], "nice": false, "zero": false}},
                        "x2": {"field": "hi"},
                        "y": {"field": "n", "type": "quantitative", "scale": {"domain": [-2.1, 5.5], "reverse": true, "nice": false, "zero": false}}}},
          {"data": {"name": "s3"}, "mark": {"type": "point", "shape": "M0,-1L0,1", "size": 49, "filled": false, "opacity": 1, "color": "#111", "strokeWidth": 1.3},
           "encoding": {"x": {"field": "lo", "type": "quantitative", "scale": {"domain": [-1, 2], "nice": false, "zero": false}},
                        "y": {"field": "n", "type": "quantitative", "scale": {"domain": [-2.1, 5.5], "reverse": true, "nice": false, "zero": false}}}},
          {"data": {"name": "s3"}, "mark": {"type": "point", "shape": "M0,-1L0,1", "size": 49, "filled": false, "opacity": 1, "color": "#111", "strokeWidth": 1.3},
           "encoding": {"x": {"field": "hi", "type": "quantitative", "scale": {"domain": [-1, 2], "nice": false, "zero": false}},
                        "y": {"field": "n", "type": "quantitative", "scale": {"domain": [-2.1, 5.5], "reverse": true, "nice": false, "zero": false}}}},
          {"data": {"name": "s3"}, "mark": {"type": "point", "shape": "circle", "filled": true, "opacity": 1, "stroke": "#000", "strokeWidth": 1.1, "size": 45},
           "encoding": {"x": {"field": "g", "type": "quantitative", "scale": {"domain": [-1, 2], "nice": false, "zero": false}},
                        "y": {"field": "n", "type": "quantitative", "scale": {"domain": [-2.1, 5.5], "reverse": true, "nice": false, "zero": false}},
                        "fill": {"condition": {"test": "datum.lo > 0", "value": "#000"}, "value": "#fff"}}},
          {"data": {"values": [{}]}, "mark": {"type": "text", "font": "Lato", "fontSize": 11.5, "fontWeight": "bold", "color": "#000"},
           "encoding": {"x": {"datum": -0.558, "type": "quantitative", "scale": {"domain": [-1, 2], "nice": false, "zero": false}},
                        "y": {"datum": 7.1, "type": "quantitative", "scale": {"domain": [-2.1, 5.5], "reverse": true, "nice": false, "zero": false}},
                        "text": {"value": "Favor placebo"}}},
          {"data": {"values": [{}]}, "mark": {"type": "text", "font": "Lato", "fontSize": 11.5, "fontWeight": "bold", "color": "#000"},
           "encoding": {"x": {"datum": 0.634, "type": "quantitative", "scale": {"domain": [-1, 2], "nice": false, "zero": false}},
                        "y": {"datum": 7.1, "type": "quantitative", "scale": {"domain": [-2.1, 5.5], "reverse": true, "nice": false, "zero": false}},
                        "text": {"value": "Favor treatment"}}}
        ]}
      ],
      "spacing": 0,
      "bounds": "flush"
    }
  ],
  "config": {
    "view": {"stroke": null},
    "axis": {"minExtent": 0},
    "locale": {"number": {"decimal": ".", "thousands": ",", "grouping": [3], "currency": ["$", ""], "minus": "-"}}
  }
}
